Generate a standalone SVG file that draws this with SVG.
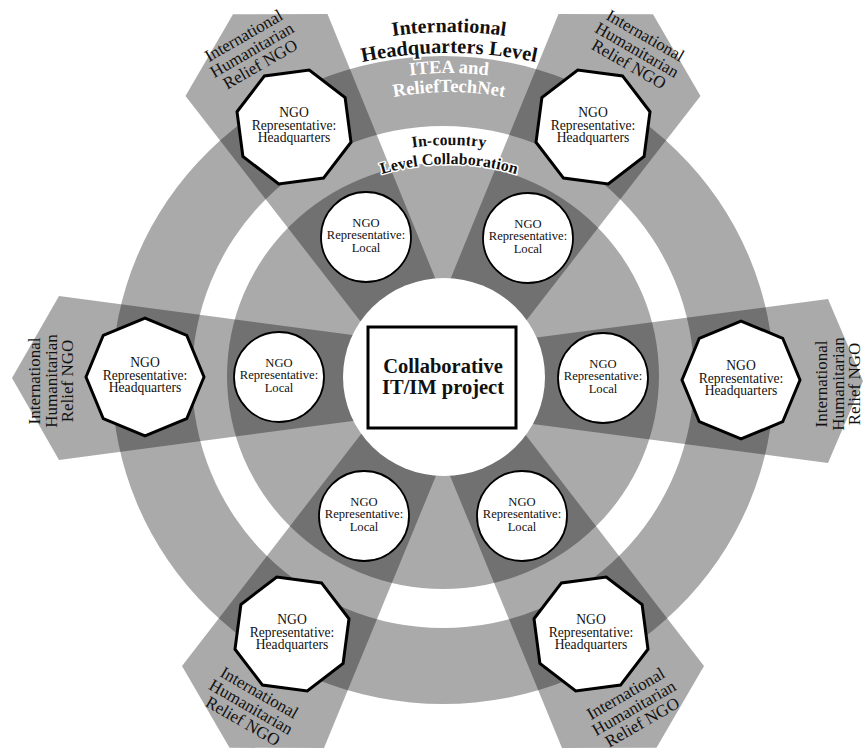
<svg xmlns="http://www.w3.org/2000/svg" xmlns:xlink="http://www.w3.org/1999/xlink" width="867" height="752" viewBox="0 0 867 752">
  <style>
    .band { fill: #000; fill-opacity: 0.335; }
    .hq { fill: #fff; stroke: #000; stroke-width: 3; stroke-linejoin: miter; }
    .loc { fill: #fff; stroke: #000; stroke-width: 1.8; }
    .box { fill: #fff; stroke: #000; stroke-width: 3; }
    text { font-family: "Liberation Serif", "Times New Roman", serif; fill: #111; }
    .t-hq { font-size: 13.6px; text-anchor: middle; }
    .t-loc { font-size: 12.6px; text-anchor: middle; }
    .t-org { font-size: 17px; text-anchor: middle; }
    .t-core { font-size: 20.5px; font-weight: bold; text-anchor: middle; }
    .t-lvl { font-weight: bold; text-anchor: middle; stroke: #fff; stroke-width: 3; paint-order: stroke; stroke-linejoin: round; }
    .t-net { font-weight: bold; font-size: 18.5px; text-anchor: middle; fill: #fff; }
  </style>
  <defs>
    <polygon id="oct" points="59,0 41.72,41.72 0,59 -41.72,41.72 -59,0 -41.72,-41.72 0,-59 41.72,-41.72"/>
    <path id="arcIntl" d="M 49,432 A 400,400 0 0,1 849,432"/>
    <path id="arcHQ" d="M 29,473 A 420,420 0 0,1 869,473"/>
    <path id="arcITEA" d="M 129,393 A 320,320 0 0,1 769,393"/>
    <path id="arcRTN" d="M 149,392 A 300,300 0 0,1 749,392"/>
    <path id="arcIn" d="M 189,405 A 260,260 0 0,1 709,405"/>
    <path id="arcLC" d="M 219,394 A 230,230 0 0,1 679,394"/>
  </defs>

  <rect width="867" height="752" fill="#fff"/>

  <!-- collaboration levels: headquarters ring and in-country ring -->
  <g id="levels">
    <path class="band" fill-rule="evenodd" d="M 112,380 a 331,324 0 1,0 662,0 a 331,324 0 1,0 -662,0 Z M 192,377 a 251,251 0 1,0 502,0 a 251,251 0 1,0 -502,0 Z"/>
    <ellipse class="band" cx="443" cy="376" rx="216" ry="213"/>
  </g>

  <!-- one tapered arm per relief organisation -->
  <g id="connectors">
    <polygon class="band" transform="translate(443 378) rotate(180)" points="60,-39 384,-82 431,0 384,82 60,39"/>
    <polygon class="band" transform="translate(443 381) rotate(0)" points="60,-39 385,-82 420,0 385,82 60,39"/>
    <polygon class="band" transform="translate(443 378) rotate(-120)" points="60,-39 373,-82 420,0 373,82 60,39"/>
    <polygon class="band" transform="translate(443 378) rotate(-60)" points="60,-39 373,-82 420,0 373,82 60,39"/>
    <polygon class="band" transform="translate(443 378) rotate(120)" points="60,-39 380,-82 427,0 380,82 60,39"/>
    <polygon class="band" transform="translate(443 378) rotate(60)" points="60,-39 380,-82 427,0 380,82 60,39"/>
  </g>

  <ellipse cx="444" cy="377" rx="101" ry="99" fill="#fff"/>

  <!-- level labels -->
  <g id="level-labels">
    <text class="t-lvl" font-size="20"><textPath href="#arcIntl" startOffset="50%">International</textPath></text>
    <text class="t-lvl" font-size="20.5"><textPath href="#arcHQ" startOffset="50%">Headquarters Level</textPath></text>
    <text class="t-net"><textPath href="#arcITEA" startOffset="50%">ITEA and</textPath></text>
    <text class="t-net"><textPath href="#arcRTN" startOffset="50%">ReliefTechNet</textPath></text>
    <text class="t-lvl" font-size="16"><textPath href="#arcIn" startOffset="50%">In-country</textPath></text>
    <text class="t-lvl" font-size="16"><textPath href="#arcLC" startOffset="50%">Level Collaboration</textPath></text>
  </g>

  <!-- organisation labels at the arm ends -->
  <g id="org-left" class="t-org" transform="translate(51 381) rotate(-90)">
    <text y="-11">International</text><text y="5.5">Humanitarian</text><text y="22">Relief NGO</text>
  </g>
  <g id="org-right" class="t-org" transform="translate(838 384) rotate(-90)">
    <text y="-11">International</text><text y="5.5">Humanitarian</text><text y="22">Relief NGO</text>
  </g>
  <g id="org-top-left" class="t-org" transform="translate(252 50) rotate(-30)">
    <text y="-11">International</text><text y="5.5">Humanitarian</text><text y="22">Relief NGO</text>
  </g>
  <g id="org-top-right" class="t-org" transform="translate(637 50) rotate(30)">
    <text y="-11">International</text><text y="5.5">Humanitarian</text><text y="22">Relief NGO</text>
  </g>
  <g id="org-bottom-left" class="t-org" transform="translate(251 707) rotate(30)">
    <text y="-11">International</text><text y="5.5">Humanitarian</text><text y="22">Relief NGO</text>
  </g>
  <g id="org-bottom-right" class="t-org" transform="translate(634 708) rotate(-30)">
    <text y="-11">International</text><text y="5.5">Humanitarian</text><text y="22">Relief NGO</text>
  </g>

  <!-- headquarters representatives -->
  <g id="hq-left">
    <use href="#oct" class="hq" transform="translate(145 377)"/>
    <text class="t-hq" x="145" y="367">NGO</text><text class="t-hq" x="145" y="379.5">Representative:</text><text class="t-hq" x="145" y="392">Headquarters</text>
  </g>
  <g id="hq-right">
    <use href="#oct" class="hq" transform="translate(741 380)"/>
    <text class="t-hq" x="741" y="370">NGO</text><text class="t-hq" x="741" y="382.5">Representative:</text><text class="t-hq" x="741" y="395">Headquarters</text>
  </g>
  <g id="hq-top-left">
    <use href="#oct" class="hq" transform="translate(294 127) rotate(15)"/>
    <text class="t-hq" x="294" y="117">NGO</text><text class="t-hq" x="294" y="129.5">Representative:</text><text class="t-hq" x="294" y="142">Headquarters</text>
  </g>
  <g id="hq-top-right">
    <use href="#oct" class="hq" transform="translate(593 127) rotate(-15)"/>
    <text class="t-hq" x="593" y="117">NGO</text><text class="t-hq" x="593" y="129.5">Representative:</text><text class="t-hq" x="593" y="142">Headquarters</text>
  </g>
  <g id="hq-bottom-left">
    <use href="#oct" class="hq" transform="translate(292 634) rotate(-15)"/>
    <text class="t-hq" x="292" y="624">NGO</text><text class="t-hq" x="292" y="636.5">Representative:</text><text class="t-hq" x="292" y="649">Headquarters</text>
  </g>
  <g id="hq-bottom-right">
    <use href="#oct" class="hq" transform="translate(591 634) rotate(15)"/>
    <text class="t-hq" x="591" y="624">NGO</text><text class="t-hq" x="591" y="636.5">Representative:</text><text class="t-hq" x="591" y="649">Headquarters</text>
  </g>

  <!-- local representatives -->
  <g id="local-left">
    <circle class="loc" cx="279" cy="377" r="45"/>
    <text class="t-loc" x="279" y="366.5">NGO</text><text class="t-loc" x="279" y="379">Representative:</text><text class="t-loc" x="279" y="391.5">Local</text>
  </g>
  <g id="local-right">
    <circle class="loc" cx="603" cy="378" r="45"/>
    <text class="t-loc" x="603" y="367.5">NGO</text><text class="t-loc" x="603" y="380">Representative:</text><text class="t-loc" x="603" y="392.5">Local</text>
  </g>
  <g id="local-top-left">
    <circle class="loc" cx="366" cy="237" r="45"/>
    <text class="t-loc" x="366" y="226.5">NGO</text><text class="t-loc" x="366" y="239">Representative:</text><text class="t-loc" x="366" y="251.5">Local</text>
  </g>
  <g id="local-top-right">
    <circle class="loc" cx="528" cy="238" r="45"/>
    <text class="t-loc" x="528" y="227.5">NGO</text><text class="t-loc" x="528" y="240">Representative:</text><text class="t-loc" x="528" y="252.5">Local</text>
  </g>
  <g id="local-bottom-left">
    <circle class="loc" cx="364" cy="516" r="45"/>
    <text class="t-loc" x="364" y="505.5">NGO</text><text class="t-loc" x="364" y="518">Representative:</text><text class="t-loc" x="364" y="530.5">Local</text>
  </g>
  <g id="local-bottom-right">
    <circle class="loc" cx="522" cy="516" r="45"/>
    <text class="t-loc" x="522" y="505.5">NGO</text><text class="t-loc" x="522" y="518">Representative:</text><text class="t-loc" x="522" y="530.5">Local</text>
  </g>

  <!-- shared project at the centre -->
  <g id="project">
    <rect class="box" x="368" y="327" width="148" height="101"/>
    <text class="t-core" x="443" y="373">Collaborative</text>
    <text class="t-core" x="443" y="394">IT/IM project</text>
  </g>
</svg>
